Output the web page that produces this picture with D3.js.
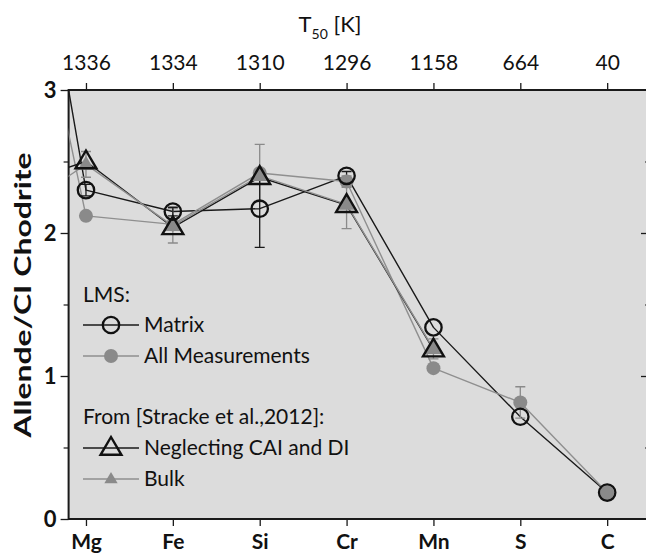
<!DOCTYPE html>
<html>
<head>
<meta charset="utf-8">
<script src="https://cdn.jsdelivr.net/npm/d3@7"></script>
<style>
  html, body { margin: 0; padding: 0; background: #fff; }
  svg { display: block; font-family: Lato, "Open Sans", sans-serif; }
</style>
</head>
<body>
<svg id="chart" width="646" height="558"></svg>
<script>
// Element abundances in Allende normalised to CI chondrite, ordered by 50% condensation temperature
const elements = ["Mg", "Fe", "Si", "Cr", "Mn", "S", "C"];
const t50Labels = ["1336", "1334", "1310", "1296", "1158", "664", "40"];
const yTicks = [0, 1, 2, 3];

// LMS, matrix spots
const matrix = [2.30, 2.15, 2.17, 2.40, 1.34, 0.715, 0.185];
const matrixErr = [0.04, 0.03, 0.27, 0.03, 0, 0, 0.02];
// LMS, all measurements
const allMeas = [2.12, 2.06, 2.42, 2.36, 1.055, 0.815, 0.185];
const allMeasErr = [0, 0, 0.20, 0.04, 0, 0.11, 0.02];
// Stracke et al. (2012), neglecting CAI and DI
const neglect = [2.50, 2.04, 2.39, 2.195, 1.185, null, null];
// Stracke et al. (2012), bulk
const bulk = [2.48, 2.05, 2.40, 2.20, 1.19, null, null];
const bulkErr = [0.09, 0.12, 0.03, 0.17, 0.07, null, null];

// Values of the more refractory element plotted before Mg (outside the visible panel)
const leadMatrix = 5.8;
const leadAllMeas = 5.0;
const leadNeglect = 2.30;
const leadBulk = 2.07;

(function () {
const svg = d3.select("#chart");
const pLeft = 68.6, pRight = 648, pTop = 90, pBottom = 519;

const x = d3.scaleLinear().domain([-0.2, 6.47]).range([pLeft, pRight]);
const y = d3.scaleLinear().domain([0, 3]).range([pBottom, pTop]);

// panel background
svg.append("rect")
  .attr("x", pLeft).attr("y", pTop)
  .attr("width", pRight - pLeft).attr("height", pBottom - pTop)
  .attr("fill", "#dcdcdc");

svg.append("defs").append("clipPath").attr("id", "panel")
  .append("rect")
  .attr("x", pLeft).attr("y", pTop)
  .attr("width", pRight - pLeft).attr("height", pBottom - pTop);

const AXIS = "#1a1a1a";
const GREY = "#8a8a8a";
const GREYLINE = "#8f8f8f";

// left axis: major ticks outward, half-unit minor ticks
const leftAxis = svg.append("g").attr("transform", `translate(${pLeft},0)`)
  .call(d3.axisLeft(y).tickValues(yTicks).tickSize(8).tickFormat(d3.format("d")));
leftAxis.select(".domain").remove();
leftAxis.selectAll(".tick line").attr("stroke", AXIS).attr("stroke-width", 1.3);
leftAxis.selectAll(".tick text")
  .attr("x", -12).attr("fill", "#111")
  .style("font-family", "Lato, sans-serif")
  .style("font-size", "22px").style("font-weight", "bold");
svg.append("g").attr("transform", `translate(${pLeft},0)`)
  .call(d3.axisLeft(y).tickValues([0.5, 1.5, 2.5]).tickSize(5).tickFormat(""))
  .call(g => g.select(".domain").remove())
  .selectAll(".tick line").attr("stroke", AXIS).attr("stroke-width", 1.2);

// right axis ticks point inward
svg.append("g").attr("transform", `translate(${pRight},0)`)
  .call(d3.axisLeft(y).tickValues([1, 2]).tickSize(7).tickFormat(""))
  .call(g => g.select(".domain").remove())
  .selectAll(".tick line").attr("stroke", AXIS).attr("stroke-width", 1.3);
svg.append("g").attr("transform", `translate(${pRight},0)`)
  .call(d3.axisLeft(y).tickValues([0.5, 1.5, 2.5]).tickSize(3).tickFormat(""))
  .call(g => g.select(".domain").remove())
  .selectAll(".tick line").attr("stroke", AXIS).attr("stroke-width", 1.2);

// bottom axis with element symbols
const idx = d3.range(elements.length);
const bottomAxis = svg.append("g").attr("transform", `translate(0,${pBottom})`)
  .call(d3.axisBottom(x).tickValues(idx).tickSize(7).tickPadding(8)
    .tickFormat(i => elements[i]));
bottomAxis.select(".domain").remove();
bottomAxis.selectAll(".tick line").attr("stroke", AXIS).attr("stroke-width", 1.3);
bottomAxis.selectAll(".tick text")
  .attr("fill", "#111")
  .style("font-family", "Lato, sans-serif")
  .style("font-size", "21px").style("font-weight", "bold");

// top axis with T50 condensation temperatures
const topAxis = svg.append("g").attr("transform", `translate(0,${pTop})`)
  .call(d3.axisTop(x).tickValues(idx).tickSize(7).tickPadding(13)
    .tickFormat(i => t50Labels[i]));
topAxis.select(".domain").remove();
topAxis.selectAll(".tick line").attr("stroke", AXIS).attr("stroke-width", 1.3);
topAxis.selectAll(".tick text")
  .attr("fill", "#111")
  .style("font-family", "Lato, sans-serif")
  .style("font-size", "21px");

// panel frame (left, top, bottom)
svg.append("path")
  .attr("d", `M${pRight},${pTop}H${pLeft}V${pBottom}H${pRight}`)
  .attr("fill", "none").attr("stroke", AXIS).attr("stroke-width", 2);

// axis titles
const t50 = svg.append("text")
  .attr("x", 330).attr("y", 32)
  .attr("text-anchor", "middle")
  .attr("fill", "#111")
  .style("font-size", "22px");
t50.append("tspan").text("T");
t50.append("tspan").attr("dy", 7).style("font-size", "14px").text("50");
t50.append("tspan").attr("dy", -7).text(" [K]");

// y title, drawn elongated along its reading direction
svg.append("text")
  .attr("transform", "translate(31,295) rotate(-90) scale(1.45,1)")
  .attr("text-anchor", "middle")
  .attr("fill", "#111")
  .style("font-size", "22px").style("font-weight", "bold")
  .text("Allende/CI Chodrite");

// series
const plot = svg.append("g").attr("clip-path", "url(#panel)");

function seriesPoints(vals, lead) {
  const pts = [{i: -1, v: lead}];
  vals.forEach((v, i) => { if (v != null) pts.push({i, v}); });
  return pts;
}
const line = d3.line().x(d => x(d.i)).y(d => y(d.v));

function drawLine(vals, lead, color, width) {
  plot.append("path")
    .datum(seriesPoints(vals, lead))
    .attr("d", line)
    .attr("fill", "none")
    .attr("stroke", color)
    .attr("stroke-width", width)
    .attr("stroke-linejoin", "round");
}

function drawErr(vals, errs, color) {
  const data = vals.map((v, i) => ({i, v, e: errs[i]}))
    .filter(d => d.v != null && d.e);
  const g = plot.append("g").attr("stroke", color).attr("stroke-width", 1.3).attr("fill", "none");
  data.forEach(d => {
    const cx = x(d.i), y0 = y(d.v - d.e), y1 = y(d.v + d.e);
    g.append("path").attr("d",
      `M${cx},${y0}V${y1}M${cx - 5},${y0}H${cx + 5}M${cx - 5},${y1}H${cx + 5}`);
  });
}

// connecting lines
drawLine(matrix, leadMatrix, "#1a1a1a", 1.4);
drawLine(allMeas, leadAllMeas, GREYLINE, 1.4);
drawLine(neglect, leadNeglect, "#1a1a1a", 1.4);
drawLine(bulk, leadBulk, GREYLINE, 1.4);

// error bars
drawErr(allMeas, allMeasErr, GREY);
drawErr(bulk, bulkErr, GREY);
drawErr(matrix, matrixErr, "#1a1a1a");

const triPath = (s) => `M0,${-s}L${s * 0.95},${s * 0.62}L${-s * 0.95},${s * 0.62}Z`;

function markers(vals, draw) {
  vals.forEach((v, i) => { if (v != null) draw(plot, x(i), y(v)); });
}
const grayDot = (g, cx, cy) => g.append("circle").attr("cx", cx).attr("cy", cy)
  .attr("r", 7).attr("fill", GREY);
const openCircle = (g, cx, cy) => g.append("circle").attr("cx", cx).attr("cy", cy)
  .attr("r", 8.2).attr("fill", "none").attr("stroke", "#111").attr("stroke-width", 2.3);
const openTri = (g, cx, cy) => g.append("path")
  .attr("transform", `translate(${cx},${cy})`).attr("d", triPath(11))
  .attr("fill", "none").attr("stroke", "#111").attr("stroke-width", 2.4)
  .attr("stroke-linejoin", "miter");
const grayTri = (g, cx, cy) => g.append("path")
  .attr("transform", `translate(${cx},${cy})`).attr("d", triPath(8.5))
  .attr("fill", GREY);

markers(allMeas, grayDot);
markers(bulk, grayTri);
markers(matrix, openCircle);
markers(neglect, openTri);

// legend
const leg = svg.append("g").attr("fill", "#111").style("font-size", "21px");
const lx0 = 83, lx1 = 139, lmx = 111, ltx = 144;
leg.append("text").attr("x", lx0).attr("y", 295).attr("dy", "0.35em").text("LMS:");
leg.append("text").attr("x", lx0).attr("y", 417).attr("dy", "0.35em").text("From [Stracke et al.,2012]:");

const items = [
  {label: "Matrix", y: 325, color: "#1a1a1a", mark: openCircle},
  {label: "All Measurements", y: 356, color: GREYLINE, mark: grayDot},
  {label: "Neglecting CAI and DI", y: 448, color: "#1a1a1a", mark: openTri},
  {label: "Bulk", y: 479, color: GREYLINE, mark: (g, cx, cy) => g.append("path")
      .attr("transform", `translate(${cx},${cy})`).attr("d", triPath(7)).attr("fill", GREY)}
];
items.forEach(it => {
  leg.append("line").attr("x1", lx0).attr("x2", lx1).attr("y1", it.y).attr("y2", it.y)
    .attr("stroke", it.color).attr("stroke-width", 1.4);
  it.mark(leg, lmx, it.y);
  leg.append("text").attr("x", ltx).attr("y", it.y).attr("dy", "0.35em").text(it.label);
});
})();
</script>
</body>
</html>
